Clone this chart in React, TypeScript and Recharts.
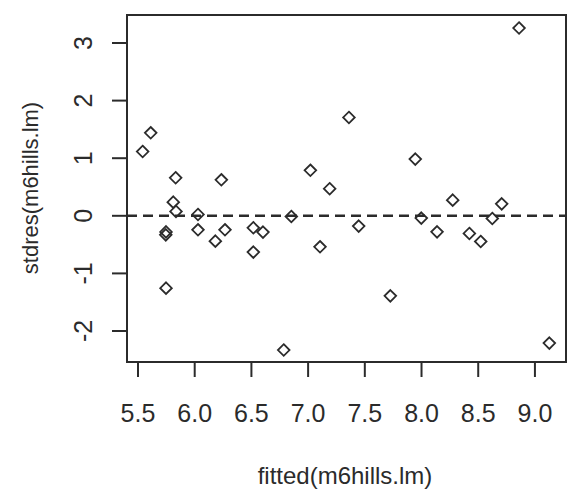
import React from "react"
import {
  ScatterChart,
  Scatter,
  XAxis,
  YAxis,
  ReferenceLine,
  ReferenceArea,
} from "recharts"

// fitted values vs standardized residuals
const fittedValues = [
  5.541, 5.612, 5.832, 6.235, 7.02, 7.19, 8.86, 7.36, 7.945, 8.275, 8.707,
  5.811, 5.835, 5.747, 5.745, 5.747, 6.029, 6.029, 6.182, 6.267, 6.517,
  6.602, 6.517, 6.852, 7.105, 6.785, 7.446, 7.998, 8.137, 7.725, 8.422,
  8.522, 8.624, 9.127,
]
const stdResiduals = [
  1.116, 1.441, 0.66, 0.625, 0.79, 0.47, 3.26, 1.707, 0.984, 0.272, 0.208,
  0.237, 0.075, -0.28, -0.33, -1.256, 0.023, -0.243, -0.44, -0.243, -0.208,
  -0.283, -0.63, -0.012, -0.538, -2.33, -0.179, -0.04, -0.278, -1.389, -0.307,
  -0.446, -0.047, -2.21,
]
const xTicks = [5.5, 6.0, 6.5, 7.0, 7.5, 8.0, 8.5, 9.0]
const yTicks = [-2, -1, 0, 1, 2, 3]
const xDomain: [number, number] = [5.403, 9.274]
const yDomain: [number, number] = [-2.538, 3.486]

const points = fittedValues.map((x, i) => ({ x, y: stdResiduals[i] }))

const INK = "#2b2b2b"
const FONT = "'Liberation Sans', Arial, sans-serif"

function Diamond(props: any) {
  const { cx, cy } = props
  const r = 5.8
  return (
    <polygon
      points={`${cx},${cy - r} ${cx + r},${cy} ${cx},${cy + r} ${cx - r},${cy}`}
      fill="none"
      stroke={INK}
      strokeWidth={1.8}
    />
  )
}

function XTick(props: any) {
  const { x, y, payload } = props
  return (
    <text x={x} y={y + 43} textAnchor="middle" fontSize={25} fill={INK} fontFamily={FONT}>
      {payload.value.toFixed(1)}
    </text>
  )
}

function YTick(props: any) {
  const { y, payload } = props
  return (
    <text
      transform={`translate(92, ${y}) rotate(-90)`}
      textAnchor="middle"
      fontSize={25}
      fill={INK}
      fontFamily={FONT}
    >
      {payload.value}
    </text>
  )
}

export default function App() {
  return (
    <div style={{ position: "absolute", left: 0, top: 0, width: 568, height: 489, background: "#fff" }}>
      <ScatterChart width={568} height={489} margin={{ top: 15, right: 2, left: 0, bottom: 0 }}>
        <XAxis
          type="number"
          dataKey="x"
          domain={xDomain}
          ticks={xTicks}
          allowDataOverflow
          axisLine={false}
          tickSize={15}
          tickMargin={2}
          tickLine={{ stroke: INK, strokeWidth: 2 }}
          tick={<XTick />}
          height={127}
          interval={0}
          label={{
            content: () => (
              <text x={345} y={484} textAnchor="middle" fontSize={24} fill={INK} fontFamily={FONT}>
                fitted(m6hills.lm)
              </text>
            ),
          }}
        />
        <YAxis
          type="number"
          dataKey="y"
          domain={yDomain}
          ticks={yTicks}
          allowDataOverflow
          axisLine={false}
          tickSize={15}
          tickLine={{ stroke: INK, strokeWidth: 2 }}
          tick={<YTick />}
          width={127}
          interval={0}
          label={{
            content: () => (
              <text
                transform="translate(38, 188) rotate(-90)"
                textAnchor="middle"
                fontSize={22}
                fill={INK}
                fontFamily={FONT}
              >
                stdres(m6hills.lm)
              </text>
            ),
          }}
        />
        <ReferenceArea
          x1={xDomain[0]}
          x2={xDomain[1]}
          y1={yDomain[0]}
          y2={yDomain[1]}
          fill="none"
          stroke={INK}
          strokeWidth={2}
          ifOverflow="visible"
        />
        <ReferenceLine y={0} stroke={INK} strokeWidth={2.5} strokeDasharray="10 6" />
        <Scatter data={points} shape={<Diamond />} isAnimationActive={false} />
      </ScatterChart>
    </div>
  )
}
